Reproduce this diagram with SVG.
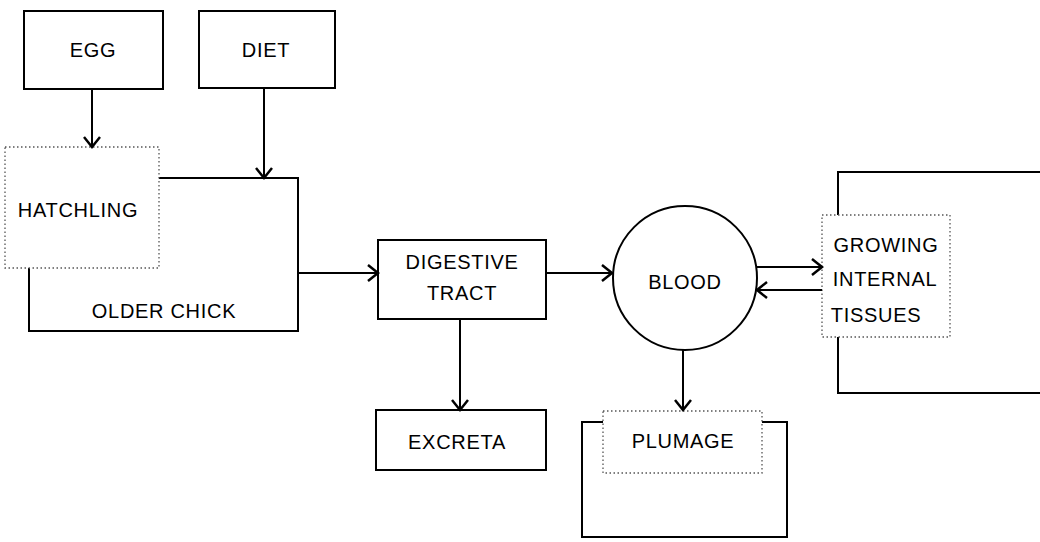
<svg xmlns="http://www.w3.org/2000/svg" width="1040" height="542" viewBox="0 0 1040 542">
<style>
.box{fill:none;stroke:#000;stroke-width:2}
.dot{fill:#fff;stroke:#555;stroke-width:1.3;stroke-dasharray:1.5 2.5}
.ln{fill:none;stroke:#000;stroke-width:2}
.con{fill:none;stroke:#000;stroke-width:2;marker-end:url(#ah)}
text{font-family:"Liberation Sans",Arial,sans-serif;font-size:20px;letter-spacing:0.7px;fill:#000;text-anchor:middle;dominant-baseline:central}
</style>
<defs>
<marker id="ah" markerWidth="14" markerHeight="20" refX="11" refY="10" orient="auto" markerUnits="userSpaceOnUse">
<path d="M1,2 L11,10 L1,18" fill="none" stroke="#000" stroke-width="2.5"/>
</marker>
</defs>
<g id="older-chick">
<path class="ln" d="M159,178 H298 V331 H29 V268"/>
<text x="164" y="311">OLDER CHICK</text>
</g>
<g id="egg">
<rect class="box" x="24" y="11" width="139" height="78"/>
<text x="93" y="50">EGG</text>
</g>
<g id="diet">
<rect class="box" x="199" y="11" width="136" height="77"/>
<text x="266" y="50">DIET</text>
</g>
<g id="hatchling">
<rect class="dot" x="5" y="147" width="154" height="121"/>
<text x="78" y="210">HATCHLING</text>
</g>
<g id="digestive-tract">
<rect class="box" x="378" y="240" width="168" height="79"/>
<text x="462" y="262">DIGESTIVE</text>
<text x="462" y="293">TRACT</text>
</g>
<g id="excreta">
<rect class="box" x="376" y="410" width="170" height="60"/>
<text x="457" y="442">EXCRETA</text>
</g>
<g id="blood">
<circle class="box" cx="685" cy="278" r="72"/>
<text x="685" y="282">BLOOD</text>
</g>
<g id="growing-internal-tissues">
<path class="ln" d="M838,215 V172 H1040 M838,337 V393 H1040"/>
<rect class="dot" x="822" y="215" width="128" height="122"/>
<text x="886" y="245">GROWING</text>
<text x="885" y="279">INTERNAL</text>
<text x="876" y="315">TISSUES</text>
</g>
<g id="plumage">
<path class="ln" d="M603,422 H582 V537 H787 V422 H762"/>
<rect class="dot" x="603" y="411" width="159" height="62"/>
<text x="683" y="441">PLUMAGE</text>
</g>
<g id="connectors">
<line class="con" x1="92" y1="89" x2="92" y2="147"/>
<line class="con" x1="264" y1="88" x2="264" y2="178"/>
<line class="con" x1="298" y1="273" x2="378" y2="273"/>
<line class="con" x1="546" y1="273" x2="612" y2="273"/>
<line class="con" x1="460" y1="319" x2="460" y2="410"/>
<line class="con" x1="683" y1="350" x2="683" y2="410"/>
<line class="con" x1="757" y1="267" x2="822" y2="267"/>
<line class="con" x1="822" y1="290" x2="757" y2="290"/>
</g>
</svg>
